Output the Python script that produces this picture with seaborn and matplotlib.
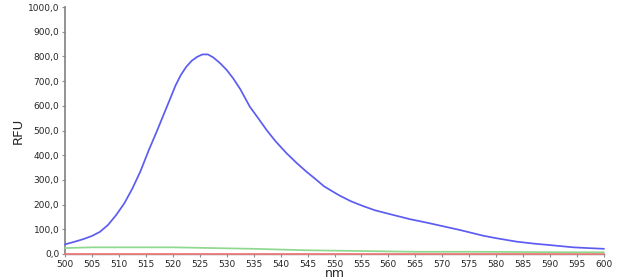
import numpy as np
import pandas as pd
import matplotlib
matplotlib.use("Agg")
import matplotlib.pyplot as plt
import seaborn as sns
from matplotlib.ticker import FuncFormatter

# Data
blue_nm = [500, 502, 503.5, 505, 506.5, 508, 509.5, 511, 512.5, 514, 515.5, 517,
           518.5, 519.5, 520.5, 521.5, 522.5, 523.5, 524.5, 525.5, 526.5, 527.5,
           528.8, 530, 531.2, 532.5, 534.3, 536, 537.4, 539, 541.1, 543, 544.8,
           546.5, 548, 549.5, 551, 553, 555.3, 557.5, 560.9, 564, 567.1, 570,
           573.3, 577.6, 580, 583.8, 587, 590, 594.3, 597, 600]
blue_rfu = [39, 51, 61, 73, 90, 118, 158, 205, 265, 335, 418, 495,
            575, 628, 682, 725, 758, 782, 798, 808, 808, 796,
            772, 745, 711, 668, 596, 545, 502, 458, 408, 368, 333,
            303, 275, 255, 236, 214, 194, 177, 158, 141, 127, 113,
            97, 74, 64, 50, 42, 36, 27, 24, 21]
green_nm = [500, 505, 520, 525, 535, 545, 555, 565, 575, 585, 594, 600]
green_rfu = [24, 27, 27, 25, 21, 15, 12, 9, 9, 8, 7, 7]
red_nm = [500, 550, 600]
red_rfu = [2, 2, 2]

x_ticks = list(range(500, 601, 5))
y_ticks = list(range(0, 1001, 100))

df = pd.concat([
    pd.DataFrame({"nm": blue_nm, "RFU": blue_rfu, "s": "blue"}),
    pd.DataFrame({"nm": green_nm, "RFU": green_rfu, "s": "green"}),
    pd.DataFrame({"nm": red_nm, "RFU": red_rfu, "s": "red"}),
])

sns.set_style("white")
plt.rcParams['font.family'] = ['DejaVu Sans']

fig = plt.figure(figsize=(6.25, 2.79), dpi=100)
ax = fig.add_axes([65/625, 1 - 254/279, (604-65)/625, (254-7)/279])

palette = {"red": "#f07a7a", "green": "#8fd88f", "blue": "#5c5cf2"}
sns.lineplot(data=df, x="nm", y="RFU", hue="s", hue_order=["red", "green", "blue"],
             palette=palette, linewidth=1.25, legend=False, ax=ax, estimator=None)
for ln in ax.lines:
    ln.set_zorder(3)
    ln.set_clip_on(False)

ax.set_xlim(500, 600)
ax.set_ylim(0, 1000)
ax.set_xticks(x_ticks)
ax.set_yticks(y_ticks)
ax.xaxis.set_major_formatter(FuncFormatter(lambda v, p: f"{int(v)}"))
ax.yaxis.set_major_formatter(FuncFormatter(lambda v, p: f"{v:.1f}".replace(".", ",")))
ax.tick_params(axis="both", labelsize=6.5, length=2.5, width=0.8, color="#909090",
               direction="out", pad=1.5, bottom=True, left=True)
for s in ["top", "right"]:
    ax.spines[s].set_visible(False)
ax.spines["left"].set_color("#808080")
ax.spines["bottom"].set_color("#808080")
ax.spines["left"].set_linewidth(1.2)
ax.spines["bottom"].set_linewidth(1.0)

ax.set_xlabel("nm", fontsize=9, labelpad=-1)
ax.set_ylabel("RFU", fontsize=9.5)
ax.yaxis.set_label_coords(-0.074, 0.5)

fig.savefig("out.png", dpi=100, facecolor="white")
